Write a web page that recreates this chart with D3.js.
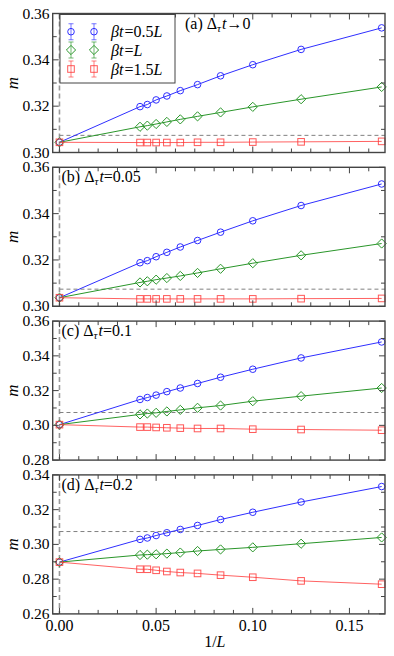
<!DOCTYPE html>
<html>
<head>
<meta charset="utf-8">
<script src="https://cdn.jsdelivr.net/npm/d3@7"></script>
<style>
  body { margin: 0; background: #fff; }
</style>
</head>
<body>
<svg id="chart"></svg>
<script>
// System sizes L, plotted as 1/L
const sizes = [24, 22, 20, 18, 16, 14, 12, 10, 8, 6];

// Panel info
const panelTags = ["(a)", "(b)", "(c)", "(d)"];
const panelDt = ["\u21920", "=0.05", "=0.1", "=0.2"];
const yDomains = [[0.30, 0.36], [0.30, 0.36], [0.28, 0.36], [0.26, 0.34]];
const yTickValues = [
  [0.30, 0.32, 0.34, 0.36],
  [0.30, 0.32, 0.34, 0.36],
  [0.28, 0.30, 0.32, 0.34, 0.36],
  [0.26, 0.28, 0.30, 0.32, 0.34]
];
const xTickValues = [0.00, 0.05, 0.10, 0.15];

// Extrapolated value at 1/L = 0, per panel
const mExtrap = [0.3044, 0.3037, 0.3004, 0.2898];
const mRef = 0.3074;

// beta t = 0.5L
const mHalf = [
  [0.3198, 0.3207, 0.3227, 0.3244, 0.3267, 0.3293, 0.3331, 0.3379, 0.3445, 0.3538],
  [0.3188, 0.3197, 0.3214, 0.3233, 0.3256, 0.3284, 0.3320, 0.3369, 0.3435, 0.3528],
  [0.3149, 0.3160, 0.3174, 0.3194, 0.3215, 0.3241, 0.3277, 0.3323, 0.3388, 0.3480],
  [0.3029, 0.3037, 0.3051, 0.3067, 0.3086, 0.3109, 0.3143, 0.3185, 0.3244, 0.3333]
];
// beta t = L
const mOne = [
  [0.3111, 0.3116, 0.3123, 0.3132, 0.3143, 0.3156, 0.3173, 0.3197, 0.3230, 0.3283],
  [0.3103, 0.3108, 0.3115, 0.3122, 0.3131, 0.3144, 0.3162, 0.3186, 0.3220, 0.3271],
  [0.3063, 0.3068, 0.3072, 0.3080, 0.3089, 0.3101, 0.3114, 0.3139, 0.3168, 0.3215],
  [0.2939, 0.2941, 0.2943, 0.2947, 0.2953, 0.2962, 0.2971, 0.2983, 0.3004, 0.3040]
];
// beta t = 1.5L
const mOneHalf = [
  [0.3043, 0.3043, 0.3043, 0.3043, 0.3043, 0.3044, 0.3044, 0.3045, 0.3046, 0.3048],
  [0.3032, 0.3032, 0.3032, 0.3032, 0.3032, 0.3032, 0.3032, 0.3032, 0.3033, 0.3034],
  [0.2990, 0.2990, 0.2988, 0.2986, 0.2984, 0.2982, 0.2982, 0.2978, 0.2976, 0.2972],
  [0.2857, 0.2857, 0.2851, 0.2844, 0.2838, 0.2833, 0.2823, 0.2811, 0.2790, 0.2771]
];

const seriesNames = ["0.5", "", "1.5"];
const seriesColors = ["#2f2fff", "#2a962a", "#ff3b3b"];
const seriesShapes = ["circle", "diamond", "square"];
const seriesData = [mHalf, mOne, mOneHalf];

// Layout
const W = 394, H = 656;
const left = 52.7, right = 385;
const panelH = 139;
const panelTop = i => 13.5 + i * 153.8;
const frameColor = "#444";
const serif = "'Liberation Serif', 'Times New Roman', 'DejaVu Serif', serif";

const svg = d3.select("#chart")
  .attr("width", W).attr("height", H)
  .attr("font-family", serif)
  .style("font-family", serif);

const x = d3.scaleLinear().domain([-0.0035, 0.1684]).range([left, right]);
const xMinor = d3.range(0, 0.1681, 0.01);

function drawMarker(g, shape, cx, cy, color) {
  if (shape === "circle") {
    g.append("circle").attr("cx", cx).attr("cy", cy).attr("r", 3.3)
      .attr("fill", "none").attr("stroke", color).attr("stroke-width", 1);
  } else if (shape === "square") {
    g.append("rect").attr("x", cx - 3.3).attr("y", cy - 3.3)
      .attr("width", 6.6).attr("height", 6.6)
      .attr("fill", "none").attr("stroke", color).attr("stroke-width", 1)
      .attr("opacity", 0.85);
  } else {
    const s = 4.6;
    g.append("path")
      .attr("d", `M${cx},${cy - s}L${cx + s},${cy}L${cx},${cy + s}L${cx - s},${cy}Z`)
      .attr("fill", "none").attr("stroke", color).attr("stroke-width", 1);
  }
}

panelTags.forEach((tag, i) => {
  const top = panelTop(i);
  const bottom = top + panelH;
  const y = d3.scaleLinear().domain(yDomains[i]).range([bottom, top]);
  const g = svg.append("g");
  const yMinor = d3.range(yDomains[i][0], yDomains[i][1] + 0.0001, 0.01);

  // dashed guides
  g.append("line")
    .attr("x1", x(0)).attr("x2", x(0)).attr("y1", top).attr("y2", bottom)
    .attr("stroke", "#9a9a9a").attr("stroke-width", 1.6).attr("stroke-dasharray", "5,3");
  g.append("line")
    .attr("x1", x(0)).attr("x2", right).attr("y1", y(mRef)).attr("y2", y(mRef))
    .attr("stroke", "#808080").attr("stroke-width", 1).attr("stroke-dasharray", "4,3");

  // series
  seriesData.forEach((set, k) => {
    const pts = [[0, mExtrap[i]]].concat(sizes.map((L, j) => [1 / L, set[i][j]]));
    const line = d3.line()
      .x(d => x(d[0])).y(d => y(d[1]));
    g.append("path").datum(pts)
      .attr("d", line)
      .attr("fill", "none")
      .attr("stroke", seriesColors[k])
      .attr("stroke-width", 1)
      .attr("opacity", k === 2 ? 0.8 : 1);
    pts.forEach(d => drawMarker(g, seriesShapes[k], x(d[0]), y(d[1]), seriesColors[k]));
  });

  // frame
  g.append("rect")
    .attr("x", left).attr("y", top).attr("width", right - left).attr("height", panelH)
    .attr("fill", "none").attr("stroke", frameColor).attr("stroke-width", 1.4);

  // ticks (inward, mirrored)
  const yMaj = yTickValues[i];
  yMinor.forEach(v => {
    const major = yMaj.some(t => Math.abs(t - v) < 1e-6);
    const len = major ? 6 : 4;
    g.append("line").attr("x1", left).attr("x2", left + len)
      .attr("y1", y(v)).attr("y2", y(v)).attr("stroke", frameColor).attr("stroke-width", 1);
    g.append("line").attr("x1", right).attr("x2", right - len)
      .attr("y1", y(v)).attr("y2", y(v)).attr("stroke", frameColor).attr("stroke-width", 1);
  });
  xMinor.forEach(v => {
    const major = xTickValues.some(t => Math.abs(t - v) < 1e-6);
    const len = major ? 6 : 4;
    g.append("line").attr("x1", x(v)).attr("x2", x(v))
      .attr("y1", bottom).attr("y2", bottom - len).attr("stroke", frameColor).attr("stroke-width", 1);
    g.append("line").attr("x1", x(v)).attr("x2", x(v))
      .attr("y1", top).attr("y2", top + len).attr("stroke", frameColor).attr("stroke-width", 1);
  });

  // y tick labels
  yMaj.forEach(v => {
    g.append("text")
      .attr("x", 49.5).attr("y", y(v) + 5)
      .attr("text-anchor", "end")
      .attr("font-size", 15.5)
      .text(d3.format(".2f")(v));
  });

  // y label
  g.append("text")
    .attr("transform", `translate(18,${(top + bottom) / 2}) rotate(-90)`)
    .attr("text-anchor", "middle")
    .attr("font-size", 17)
    .attr("font-style", "italic")
    .text("m");

  // panel label
  const lx = i === 0 ? 185 : 61.5;
  const lab = g.append("text")
    .attr("x", lx).attr("y", top + 15)
    .attr("font-size", 16);
  lab.append("tspan").text(tag + " \u0394");
  lab.append("tspan").attr("font-size", 11).attr("font-style", "italic").attr("dy", 3).text("\u03c4");
  lab.append("tspan").attr("font-style", "italic").attr("dy", -3).attr("dx", 1).text("t");
  lab.append("tspan").text(panelDt[i]);

  // x tick labels on last panel
  if (i === panelTags.length - 1) {
    xTickValues.forEach(v => {
      g.append("text")
        .attr("x", x(v)).attr("y", bottom + 17)
        .attr("text-anchor", "middle")
        .attr("font-size", 16)
        .text(d3.format(".2f")(v));
    });
    const xl = g.append("text")
      .attr("x", (left + right) / 2 - 4).attr("y", bottom + 33)
      .attr("text-anchor", "middle")
      .attr("font-size", 16);
    xl.append("tspan").text("1/");
    xl.append("tspan").attr("font-style", "italic").text("L");
  }

  // legend on first panel
  if (i === 0) {
    const lg = g.append("g");
    lg.append("rect")
      .attr("x", 60).attr("y", 14.5).attr("width", 115).attr("height", 68.5)
      .attr("fill", "#fff").attr("stroke", frameColor).attr("stroke-width", 1);
    const rows = [31.7, 50, 69];
    seriesNames.forEach((nm, k) => {
      const ry = rows[k];
      [71, 94].forEach(mx => {
        lg.append("line").attr("x1", mx).attr("x2", mx).attr("y1", ry - 8).attr("y2", ry + 8)
          .attr("stroke", seriesColors[k]).attr("stroke-width", 1.2).attr("opacity", 0.55);
        [ry - 8, ry + 8].forEach(cy => {
          lg.append("line").attr("x1", mx - 2.5).attr("x2", mx + 2.5).attr("y1", cy).attr("y2", cy)
            .attr("stroke", seriesColors[k]).attr("stroke-width", 1.2).attr("opacity", 0.55);
        });
        drawMarker(lg, seriesShapes[k], mx, ry, seriesColors[k]);
      });
      const t = lg.append("text").attr("x", 111).attr("y", ry + 5.5).attr("font-size", 16);
      t.append("tspan").attr("font-style", "italic").text("\u03b2t");
      t.append("tspan").attr("dx", 1).text("=" + nm);
      t.append("tspan").attr("font-style", "italic").text("L");
    });
  }
});
</script>
</body>
</html>
